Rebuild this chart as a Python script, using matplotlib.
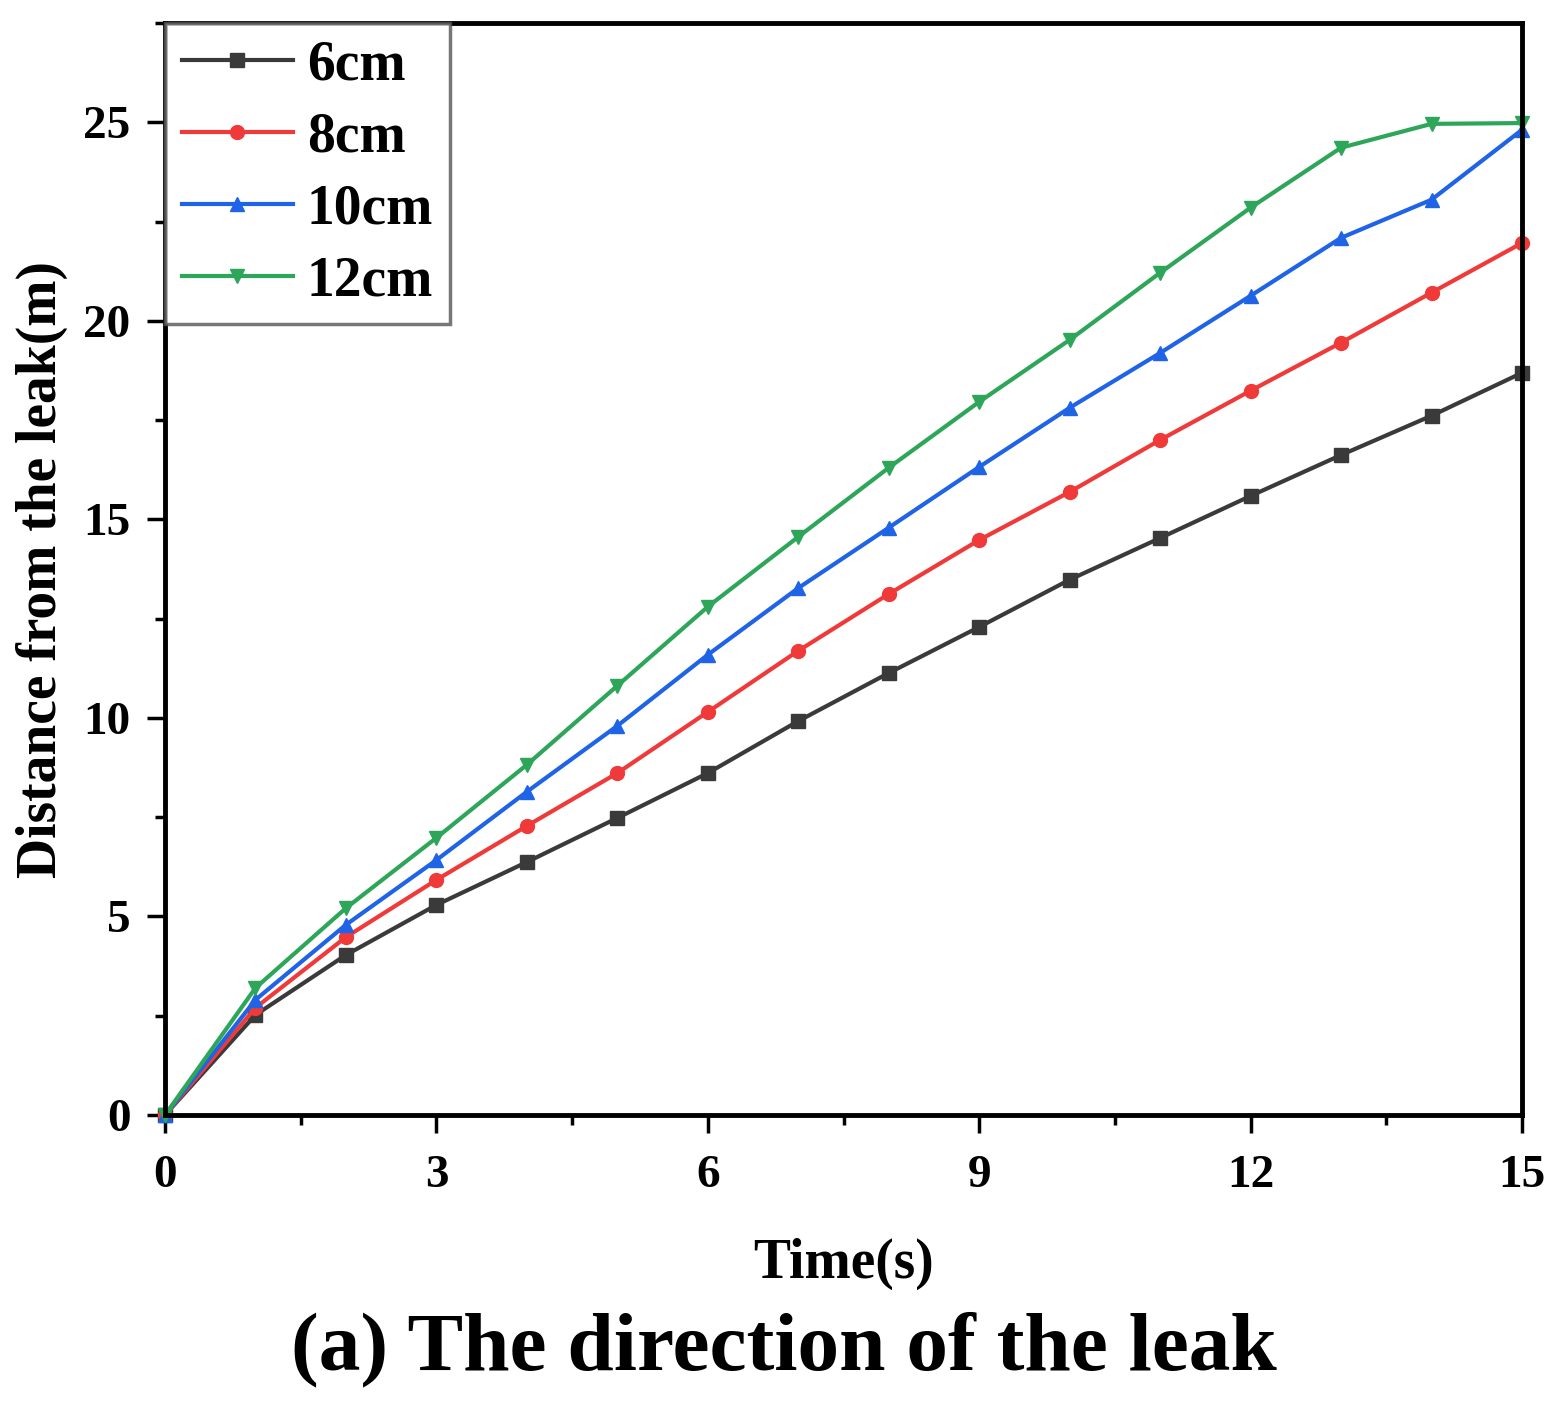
import matplotlib
matplotlib.use("Agg")
import matplotlib.pyplot as plt
from matplotlib.ticker import MultipleLocator

time_s = [0, 1, 2, 3, 4, 5, 6, 7, 8, 9, 10, 11, 12, 13, 14, 15]
d_6cm = [0, 2.52, 4.03, 5.29, 6.37, 7.48, 8.61, 9.92, 11.13, 12.29, 13.48, 14.53, 15.59, 16.62, 17.61, 18.69]
d_8cm = [0, 2.70, 4.48, 5.92, 7.28, 8.61, 10.15, 11.69, 13.12, 14.48, 15.69, 17.00, 18.24, 19.45, 20.71, 21.96]
d_10cm = [0, 2.90, 4.79, 6.42, 8.14, 9.80, 11.59, 13.27, 14.79, 16.32, 17.81, 19.19, 20.63, 22.09, 23.05, 24.81]
d_12cm = [0, 3.20, 5.21, 6.98, 8.82, 10.81, 12.80, 14.56, 16.30, 17.96, 19.52, 21.21, 22.85, 24.36, 24.96, 24.98]
labels = ["6cm", "8cm", "10cm", "12cm"]
xticks = [0, 3, 6, 9, 12, 15]
yticks = [0, 5, 10, 15, 20, 25]

plt.rcParams['font.family'] = ['Liberation Serif', 'DejaVu Serif']
plt.rcParams['font.weight'] = 'bold'

fig = plt.figure(figsize=(15.63, 14.11), dpi=100)
ax = fig.add_axes([165/1563, 1 - 1115/1411, (1522-165)/1563, (1115-23)/1411])

colors = ["#3a3a3a", "#f03a3a", "#1f63e6", "#2ea65a"]
markers = ["s", "o", "^", "v"]
series = [d_6cm, d_8cm, d_10cm, d_12cm]
for ys, c, m, lab in zip(series, colors, markers, labels):
    ax.plot(time_s, ys, color=c, marker=m, markersize=10, linewidth=3, label=lab, clip_on=False)

ax.set_xlim(0, 15)
ax.set_ylim(0, 27.5)
ax.set_xticks(xticks)
ax.set_yticks(yticks)
ax.xaxis.set_minor_locator(MultipleLocator(1.5))
ax.yaxis.set_minor_locator(MultipleLocator(2.5))
ax.tick_params(axis='both', which='major', direction='out', length=13, width=2.5, labelsize=34)
ax.tick_params(axis='y', which='major', pad=12)
ax.tick_params(axis='x', which='major', pad=16)
ax.tick_params(axis='both', which='minor', direction='out', length=7, width=2.5)
for sp in ax.spines.values():
    sp.set_linewidth(3.5)
for t in ax.get_xticklabels() + ax.get_yticklabels():
    t.set_fontweight('bold')

ax.set_xlabel("Time(s)", fontsize=40, fontweight='bold')
ax.xaxis.set_label_coords(0.5, -(1238 - 1115) / 1092, transform=ax.transAxes)
ax.xaxis.label.set_va('top')
ax.set_ylabel("Distance from the leak(m)", fontsize=40, fontweight='bold')
ax.yaxis.set_label_coords((68 - 165) / 1357, 0.5)

leg = ax.legend(loc='upper left', bbox_to_anchor=(0, 1), borderaxespad=0,
                frameon=True, fancybox=False, edgecolor='#555555', handlelength=2.0,
                labelspacing=0.36, borderpad=0.3, handletextpad=0.25,
                prop={'family': 'Liberation Serif', 'weight': 'bold', 'size': 40})
leg.get_frame().set_linewidth(2.5)

fig.text(784/1563, 1 - 1350/1411, "(a) The direction of the leak", ha='center', va='center',
         fontsize=60, fontweight='bold')

fig.savefig("out.png", dpi=100)
